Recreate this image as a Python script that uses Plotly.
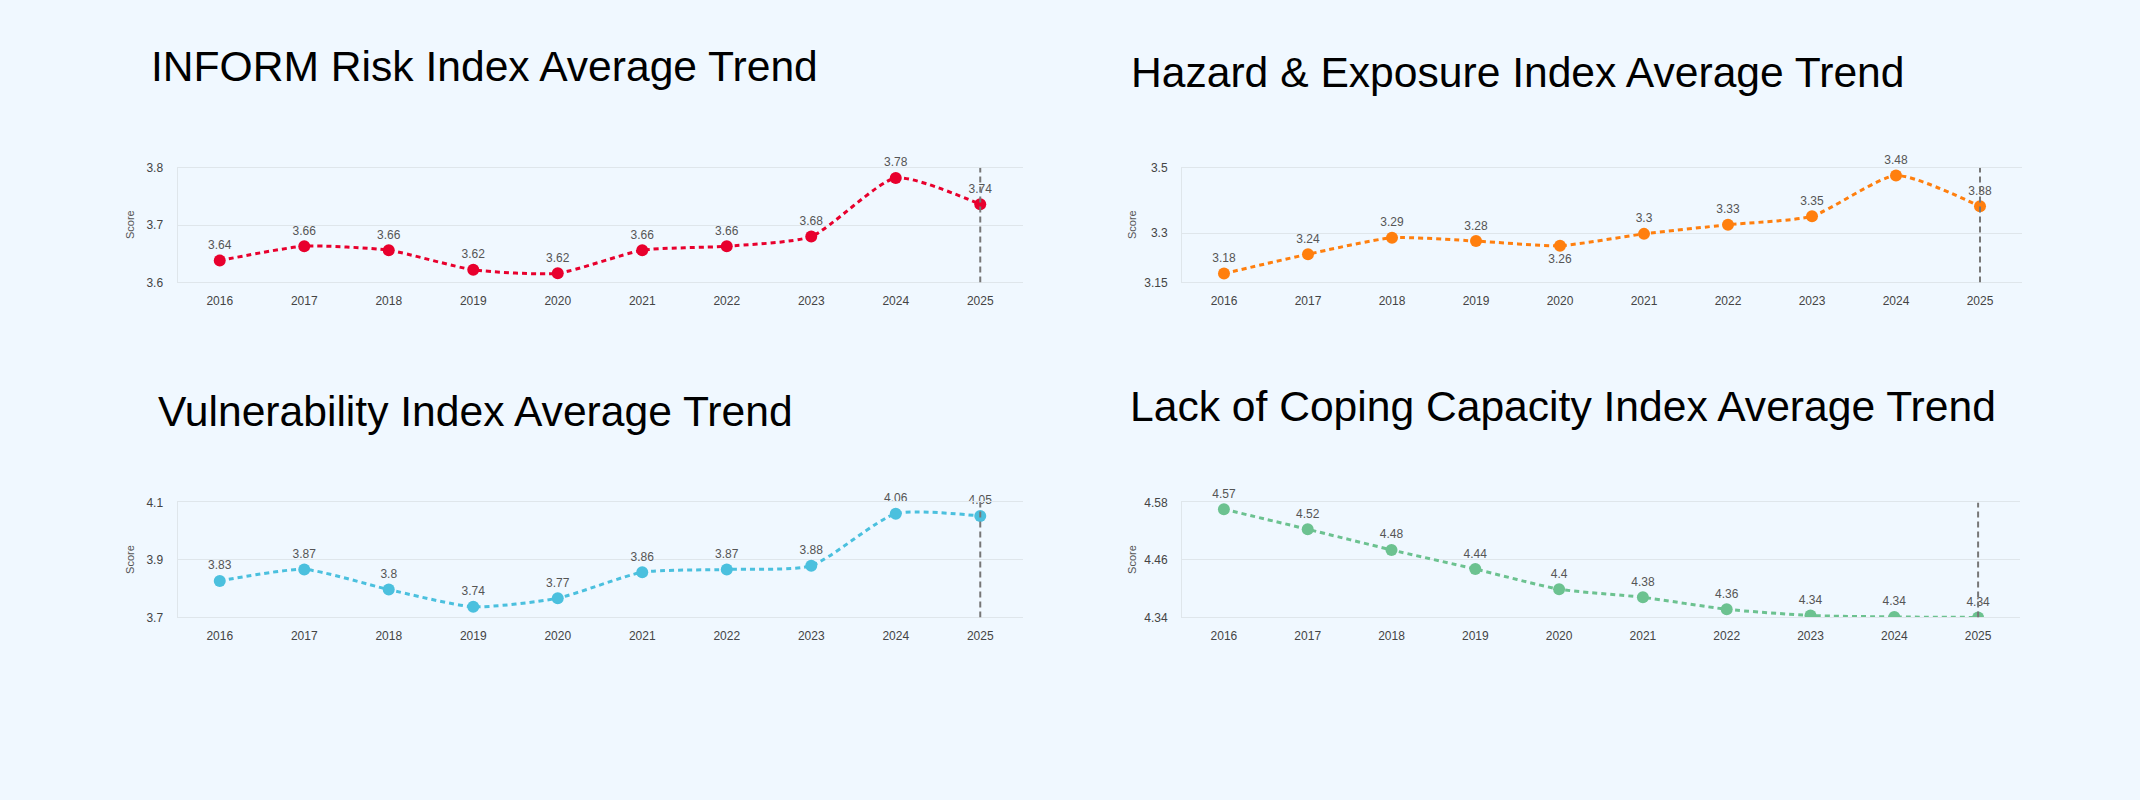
import plotly.graph_objects as go

W, H = 2140, 800

years = ["2016", "2017", "2018", "2019", "2020", "2021", "2022", "2023", "2024", "2025"]

risk = [3.638, 3.663, 3.656, 3.622, 3.616, 3.656, 3.663, 3.680, 3.782, 3.736]
hazard = [3.177, 3.236, 3.286, 3.276, 3.262, 3.298, 3.326, 3.352, 3.476, 3.382]
vulnerability = [3.827, 3.867, 3.797, 3.737, 3.767, 3.857, 3.867, 3.880, 4.061, 4.053]
coping = [4.566, 4.524, 4.481, 4.441, 4.399, 4.382, 4.357, 4.344, 4.341, 4.340]

risk_ticks = [3.6, 3.7, 3.8]
hazard_ticks = [3.15, 3.3, 3.5]
vulnerability_ticks = [3.7, 3.9, 4.1]
coping_ticks = [4.34, 4.46, 4.58]

titles = [
    "INFORM Risk Index Average Trend",
    "Hazard & Exposure Index Average Trend",
    "Vulnerability Index Average Trend",
    "Lack of Coping Capacity Index Average Trend",
]
y_title = "Score"
colors = ["#e8002d", "#ff7f0e", "#4bc0de", "#6cc290"]
highlight_year = "2025"

BG = "#f0f8ff"
GRID = "#dfe6eb"
FONT = "Arial, Liberation Sans, sans-serif"


def fmt(v):
    return f"{v:.2f}".rstrip("0").rstrip(".")


# pixel boxes: (left, right, top, bottom)
boxes = [
    (177.5, 1022.5, 163.5, 280.3),
    (1182, 2022, 163.5, 280.3),
    (177.5, 1022.5, 504.3, 621.3),
    (1182, 2020, 504.3, 621.3),
]
# title anchor positions (x left, y middle) in pixels
title_pos = [(149, 60), (1129, 66), (156, 411), (1128, 406)]
score_x = [130, 1132, 130, 1132]

series = [risk, hazard, vulnerability, coping]
ticks = [risk_ticks, hazard_ticks, vulnerability_ticks, coping_ticks]
text_positions = [
    ["top center"] * 10,
    ["top center"] * 4 + ["bottom center"] + ["top center"] * 5,
    ["top center"] * 10,
    ["top center"] * 10,
]

fig = go.Figure()
layout = dict(
    width=W,
    height=H,
    margin=dict(l=0, r=0, t=0, b=0),
    paper_bgcolor=BG,
    plot_bgcolor=BG,
    showlegend=False,
    font=dict(family=FONT, size=12, color="#444"),
    shapes=[],
    annotations=[],
)

hl_index = years.index(highlight_year)

for i in range(4):
    n = "" if i == 0 else str(i + 1)
    l, r, t, b = boxes[i]
    vals = series[i]
    # line + markers (clipped to plot area)
    fig.add_trace(
        go.Scatter(
            x=years,
            y=vals,
            mode="lines+markers",
            line=dict(color=colors[i], width=3, dash="5px,4px", shape="spline", smoothing=0.6),
            marker=dict(color=colors[i], size=12),
            xaxis="x" + n,
            yaxis="y" + n,
            cliponaxis=True,
        )
    )
    # value labels (not clipped)
    fig.add_trace(
        go.Scatter(
            x=years,
            y=vals,
            mode="markers+text",
            marker=dict(color=colors[i], size=12, opacity=0),
            text=[fmt(v) for v in vals],
            textposition=text_positions[i],
            textfont=dict(family=FONT, size=12, color="#555"),
            xaxis="x" + n,
            yaxis="y" + n,
            cliponaxis=False,
        )
    )
    layout["xaxis" + n] = dict(
        domain=[l / W, r / W],
        anchor="y" + n,
        type="category",
        range=[-0.5, 9.5],
        showgrid=False,
        showline=True,
        mirror=True,
        linecolor=GRID,
        linewidth=1,
        zeroline=False,
        ticklabelstandoff=7,
        tickfont=dict(size=12, color="#444"),
    )
    layout["yaxis" + n] = dict(
        domain=[1 - b / H, 1 - t / H],
        anchor="x" + n,
        range=[ticks[i][0], ticks[i][-1]],
        tickvals=ticks[i],
        ticktext=[fmt(v) for v in ticks[i]],
        showgrid=True,
        gridcolor=GRID,
        gridwidth=1,
        showline=True,
        linecolor=GRID,
        linewidth=1,
        zeroline=False,
        ticklabelstandoff=11,
        tickfont=dict(size=12, color="#444"),
    )
    layout["shapes"].append(
        dict(
            type="line",
            xref="x" + n,
            yref="y" + n,
            x0=hl_index,
            x1=hl_index,
            y0=ticks[i][0],
            y1=ticks[i][-1],
            line=dict(color="#777777", width=2, dash="6px,4px"),
            layer="above",
        )
    )
    tx, ty = title_pos[i]
    layout["annotations"].append(
        dict(
            text=titles[i],
            xref="paper",
            yref="paper",
            x=tx / W,
            y=1 - ty / H,
            xanchor="left",
            yanchor="middle",
            showarrow=False,
            font=dict(family=FONT, size=42.6, color="#000"),
        )
    )
    layout["annotations"].append(
        dict(
            text=y_title,
            xref="paper",
            yref="paper",
            x=score_x[i] / W,
            y=1 - (t + b) / 2 / H,
            xanchor="center",
            yanchor="middle",
            textangle=-90,
            showarrow=False,
            font=dict(family=FONT, size=11, color="#555"),
        )
    )

fig.update_layout(**layout)

fig.write_html(
    "out.html",
    config={"displayModeBar": False},
    post_script="document.body.style.margin='0';document.body.style.background='" + BG + "';",
)
